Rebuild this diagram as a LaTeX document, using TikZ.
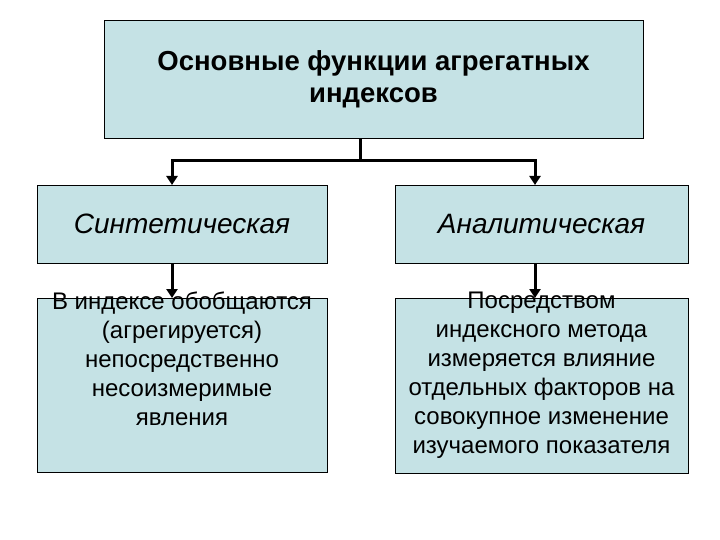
\documentclass[tikz,border=0pt]{standalone}
\usepackage{fontspec}
\setmainfont{Liberation Sans}
\usetikzlibrary{arrows.meta}
\definecolor{boxfill}{HTML}{C5E2E5}
\begin{document}
\begin{tikzpicture}[x=1pt,y=-1pt,
  box/.style={draw=black,line width=0.8pt,fill=boxfill,inner sep=0pt,align=center},
  txt/.style={align=center,inner sep=0pt,font=\fontsize{24}{29}\selectfont},
  conn/.style={line width=3pt,-{Triangle[length=9pt,width=11pt]}}]
\useasboundingbox (0,0) rectangle (720,540);
\node[box,minimum width=539pt,minimum height=118pt,font=\fontsize{27.5}{32}\selectfont\bfseries] (top) at (373.5,79) {Основные функции агрегатных\\индексов};
\node[box,minimum width=290pt,minimum height=78pt,font=\fontsize{28}{32}\selectfont\itshape] (l1) at (182,224) {Синтетическая};
\node[box,minimum width=293pt,minimum height=78pt,font=\fontsize{28}{32}\selectfont\itshape] (r1) at (541.5,224) {Аналитическая};
\node[box,minimum width=290pt,minimum height=174pt,anchor=north] (l2) at (182,298) {};
\node[box,minimum width=293pt,minimum height=175pt,anchor=north] (r2) at (541.5,298) {};
\node[txt,anchor=north] (l2t) at ([yshift=6pt]l2.north) {В индексе обобщаются\\(агрегируется)\\непосредственно\\несоизмеримые\\явления};
\node[txt,anchor=north] (r2t) at ([yshift=6pt]r2.north) {Посредством\\индексного метода\\измеряется влияние\\отдельных факторов на\\совокупное изменение\\изучаемого показателя};
\coordinate (j) at (360,161);
\draw[line width=3pt] (top.south -| j) -- (j);
\draw[conn] (j) -| (172,185);
\draw[conn] (j) -| (535,185);
\draw[conn] (172,263) -- (172,298);
\draw[conn] (535,263) -- (535,298);
\end{tikzpicture}
\end{document}
